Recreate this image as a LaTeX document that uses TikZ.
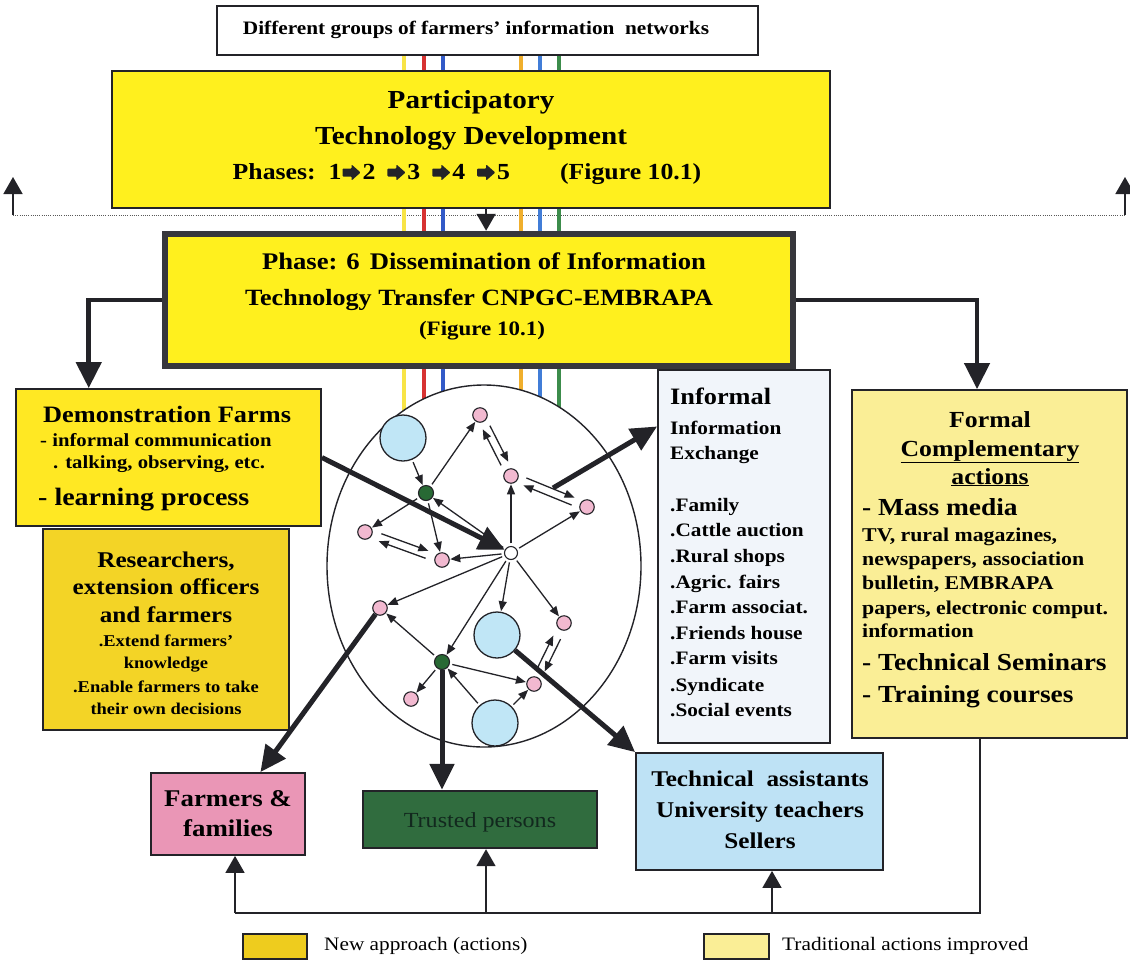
\documentclass[tikz,border=0pt]{standalone}
\usepackage{fontspec}
\setmainfont{Liberation Serif}[FakeStretch=1.12]
\usetikzlibrary{arrows.meta,calc,fit}

\definecolor{ink}{RGB}{35,35,40}
\definecolor{frame}{RGB}{55,55,60}
\definecolor{brightyellow}{RGB}{255,240,30}
\definecolor{demoyellow}{RGB}{255,232,35}
\definecolor{goldyellow}{RGB}{243,212,38}
\definecolor{keygold}{RGB}{238,204,30}
\definecolor{paleyellow}{RGB}{250,238,150}
\definecolor{infoblue}{RGB}{241,245,250}
\definecolor{skyblue}{RGB}{190,226,245}
\definecolor{rosepink}{RGB}{234,150,182}
\definecolor{forest}{RGB}{48,108,62}
\definecolor{forestdark}{RGB}{18,40,30}
\definecolor{dotpink}{RGB}{242,185,208}
\definecolor{dotgreen}{RGB}{40,105,52}
\definecolor{circblue}{RGB}{192,230,246}
\definecolor{lnyellow}{RGB}{248,228,70}
\definecolor{lnred}{RGB}{215,50,50}
\definecolor{lnblue}{RGB}{50,90,200}
\definecolor{lnorange}{RGB}{240,175,45}
\definecolor{lnbluelight}{RGB}{65,125,215}
\definecolor{lngreen}{RGB}{60,140,75}

\newcommand\fsz[1]{\fontsize{#1}{#1}\selectfont}
% one line of text: anchor, name, position, font, contents
\newcommand\tline[5]{\node[anchor=#1,inner sep=0pt,font={#4}] (#2) at (#3) {#5};}
% heavy block arrow used between the phase numbers
\newcommand\fatarrow{\tikz[baseline=-6.5pt]{\fill[ink,rounded corners=0.8pt] (0pt,-4pt) -- (9pt,-4pt) -- (9pt,-8pt) -- (18pt,0pt) -- (9pt,8pt) -- (9pt,4pt) -- (0pt,4pt) -- cycle;}}
% two opposite arrows running side by side between two nodes
\newcommand\pairarrow[3]{%
  \draw[netarrow,shorten <=#3,shorten >=#3] ($(#1)!4pt!90:(#2)$) -- ($(#2)!4pt!-90:(#1)$);
  \draw[netarrow,shorten <=#3,shorten >=#3] ($(#2)!4pt!90:(#1)$) -- ($(#1)!4pt!-90:(#2)$);}

\begin{document}
\begin{tikzpicture}[x=1pt,y=-1pt,
  box/.style={draw=ink,line width=1.8pt,inner sep=0pt},
  netarrow/.style={draw=ink,line width=1.3pt,-{Triangle[length=10pt,width=8pt]},shorten <=2.5pt,shorten >=0.5pt},
  bigarrow/.style={draw=ink,line width=5pt,-{Triangle[length=26pt,width=24pt]}},
  branch/.style={draw=ink,line width=4.5pt,-{Triangle[length=26pt,width=25pt]}},
  busline/.style={draw=ink,line width=2.6pt},
  uparrow/.style={draw=ink,line width=1.6pt,-{Triangle[length=17pt,width=19pt]}},
  dotline/.style={draw=black!65,line width=1pt,dash pattern=on 1pt off 1.2pt},
  bigc/.style={circle,draw=ink,line width=1.3pt,fill=circblue,minimum size=46pt,inner sep=0pt},
  pdot/.style={circle,draw=ink,line width=1.1pt,fill=dotpink,minimum size=14.5pt,inner sep=0pt},
  gdot/.style={circle,draw=ink,line width=1.1pt,fill=dotgreen,minimum size=15pt,inner sep=0pt},
  hub/.style={circle,draw=ink,line width=1.1pt,fill=white,minimum size=13pt,inner sep=0pt}]

\fill[white] (0,0) rectangle (1130,962);
\useasboundingbox (0,0) rectangle (1130,962);

% the separating dotted line with its two upward arrows
\coordinate (dotL) at (13,215);
\coordinate (dotR) at (1125,215);
\coordinate (dotLtip) at (13,177);
\coordinate (dotRtip) at (1125,177);
\draw[dotline] (dotL) -- (dotR);
\draw[uparrow] (dotL) -- (dotLtip);
\draw[uparrow] (dotR) -- (dotRtip);

% coloured threads of the farmer networks
\foreach \xx/\cc in {404/lnyellow,424/lnred,443/lnblue,521/lnorange,540/lnbluelight,559/lngreen}
  \draw[\cc,line width=4pt] (\xx,55) -- (\xx,470);

% boxes
\node[box,fill=white,fit={(217,6) (758,55)}] (groups) {};
\node[box,fill=brightyellow,fit={(112,71) (830,208)}] (ptd) {};
\node[box,fill=brightyellow,draw=frame,line width=6.5pt,fit={(165,234) (793,366)}] (phase) {};
\node[box,fill=demoyellow,fit={(16,389) (321,526)}] (demo) {};
\node[box,fill=goldyellow,fit={(43,529) (289,730)}] (research) {};
\node[box,fill=infoblue,fit={(658,370) (830,743)}] (informal) {};
\node[box,fill=paleyellow,fit={(852,390) (1127,738)}] (formal) {};
\node[box,fill=rosepink,fit={(151,773) (305,855)}] (farmers) {};
\node[box,fill=forest,line width=2.4pt,fit={(363,791) (597,848)}] (trusted) {};
\node[box,fill=skyblue,fit={(636,753) (883,870)}] (tech) {};
\node[box,fill=keygold,fit={(243,934) (307,959)}] (keynew) {};
\node[box,fill=paleyellow,fit={(704,934) (769,959)}] (keytrad) {};

% PTD to phase 6
\coordinate (ptdOut) at ($(ptd.south west)!0.521!(ptd.south east)$);
\draw[uparrow] (ptdOut) -- (ptdOut |- phase.north);

% phase 6 branches
\coordinate (demoIn) at ($(demo.north west)!0.24!(demo.north east)$);
\coordinate (formalIn) at ($(formal.north west)!0.455!(formal.north east)$);
\draw[branch] (phase.west) -| (demoIn);
\draw[branch] (phase.east) -| (formalIn);

% feedback bus from the formal actions
\coordinate (fbTop) at ($(formal.south west)!0.465!(formal.south east)$);
\coordinate (busL) at (235,913);
\coordinate (busT) at (486,913);
\coordinate (busS) at (772,913);
\draw[busline] (fbTop) |- (busL);
\draw[uparrow] (busL) -- (busL |- farmers.south);
\draw[uparrow] (busT) -- (busT |- trusted.south);
\draw[uparrow] (busS) -- (busS |- tech.south);

% network ellipse
\path[fill=white,draw=ink,line width=1.4pt] (484,566) ellipse [x radius=157pt,y radius=181pt];

\node[bigc] (C1) at (403,438) {};
\node[bigc] (C2) at (497,635) {};
\node[bigc] (C3) at (495,723) {};
\node[gdot] (G1) at (426,493) {};
\node[gdot] (G2) at (442,662) {};
\node[hub]  (Ctr) at (511,553) {};
\node[pdot] (P1) at (480,415) {};
\node[pdot] (P2) at (511,476) {};
\node[pdot] (P3) at (587,507) {};
\node[pdot] (P4) at (365,532) {};
\node[pdot] (P5) at (442,560) {};
\node[pdot] (P6) at (380,608) {};
\node[pdot] (P7) at (564,623) {};
\node[pdot] (P8) at (534,684) {};
\node[pdot] (P9) at (411,699) {};

\draw[netarrow] (C1) -- (G1);
\draw[netarrow] (G1) -- (P1);
\pairarrow{P1}{P2}{14pt}
\draw[netarrow] (Ctr) -- (P2);
\pairarrow{P2}{P3}{15pt}
\draw[netarrow] (Ctr) -- (P3);
\draw[netarrow] (Ctr) -- (G1);
\draw[netarrow] (G1) -- (P4);
\draw[netarrow] (G1) -- (P5);
\pairarrow{P4}{P5}{16pt}
\draw[netarrow] (Ctr) -- (P5);
\draw[netarrow] (Ctr) -- (P6);
\draw[netarrow] (Ctr) -- (C2);
\draw[netarrow] (Ctr) -- (P7);
\draw[netarrow] (Ctr) -- (G2);
\draw[netarrow] (G2) -- (P6);
\draw[netarrow] (G2) -- (P9);
\draw[netarrow] (G2) -- (P8);
\draw[netarrow] (C3) -- (G2);
\draw[netarrow] (C3) -- (P8);
\pairarrow{P8}{P7}{16pt}

% heavy flows in and out of the network
\coordinate (infS) at (553,488);
\coordinate (infT) at ($(informal.north west)!0.153!(informal.south west)$);
\coordinate (farmT) at ($(farmers.north west)!0.708!(farmers.north east)$);
\draw[bigarrow] (demo.east) -- (Ctr);
\draw[bigarrow] (infS) -- (infT);
\draw[bigarrow] (C2) -- (tech.north west);
\draw[bigarrow] (P6) -- (farmT);
\draw[bigarrow] (G2) -- (G2 |- trusted.north);

% texts
\tline{base}{tGroups}{476,34}{\fsz{19}\bfseries}{Different groups of farmers’ information\ \ networks}

\tline{base}{tPtdA}{471,108}{\fsz{26}\bfseries}{Participatory}
\tline{base}{tPtdB}{471,144}{\fsz{26}\bfseries}{Technology Development}
\tline{base}{tPtdC}{467,179}{\fsz{23}\bfseries}{Phases:\hspace{13pt}1\hspace{1pt}\fatarrow\hspace{2pt}2\hspace{12pt}\fatarrow\hspace{2pt}3\hspace{12pt}\fatarrow\hspace{2pt}4\hspace{12pt}\fatarrow\hspace{2pt}5\hspace{50pt}(Figure 10.1)}

\tline{base}{tPhA}{484,269}{\fsz{23.8}\bfseries}{Phase: 6\hspace{10pt}Dissemination of Information}
\tline{base}{tPhB}{479,305}{\fsz{23.3}\bfseries}{Technology Transfer CNPGC-EMBRAPA}
\tline{base}{tPhC}{482,335}{\fsz{20.5}\bfseries}{(Figure 10.1)}

\tline{base west}{tDemoA}{43,422}{\fsz{23.5}\bfseries}{Demonstration Farms}
\tline{base west}{tDemoB}{40,446}{\fsz{18.5}\bfseries}{- informal communication}
\tline{base west}{tDemoC}{53,468}{\fsz{18.5}\bfseries}{. talking, observing, etc.}
\tline{base west}{tDemoD}{38,505}{\fsz{25}\bfseries}{- learning process}

\tline{base}{tResA}{166,567}{\fsz{22.5}\bfseries}{Researchers,}
\tline{base}{tResB}{166,594}{\fsz{22.5}\bfseries}{extension officers}
\tline{base}{tResC}{166,622}{\fsz{22.5}\bfseries}{and farmers}
\tline{base}{tResD}{166,646}{\fsz{16.5}\bfseries}{.Extend farmers’}
\tline{base}{tResE}{166,668}{\fsz{16.5}\bfseries}{knowledge}
\tline{base}{tResF}{166,692}{\fsz{16.5}\bfseries}{.Enable farmers to take}
\tline{base}{tResG}{166,714}{\fsz{16.5}\bfseries}{their own decisions}

\tline{base west}{tInfA}{670,404}{\fsz{23.5}\bfseries}{Informal}
\tline{base west}{tInfB}{670,434}{\fsz{19}\bfseries}{Information}
\tline{base west}{tInfC}{670,459}{\fsz{19}\bfseries}{Exchange}
\tline{base west}{tInfD}{670,511}{\fsz{19}\bfseries}{.Family}
\tline{base west}{tInfE}{670,536}{\fsz{19}\bfseries}{.Cattle auction}
\tline{base west}{tInfF}{670,562}{\fsz{19}\bfseries}{.Rural shops}
\tline{base west}{tInfG}{670,588}{\fsz{19}\bfseries}{.Agric. fairs}
\tline{base west}{tInfH}{670,613}{\fsz{19}\bfseries}{.Farm associat.}
\tline{base west}{tInfI}{670,639}{\fsz{19}\bfseries}{.Friends house}
\tline{base west}{tInfJ}{670,664}{\fsz{19}\bfseries}{.Farm visits}
\tline{base west}{tInfK}{670,691}{\fsz{19}\bfseries}{.Syndicate}
\tline{base west}{tInfL}{670,716}{\fsz{19}\bfseries}{.Social events}

\tline{base}{tForA}{990,427}{\fsz{23}\bfseries}{Formal}
\tline{base}{tForB}{990,456}{\fsz{23}\bfseries}{\underline{Complementary}}
\tline{base}{tForC}{990,484}{\fsz{23}\bfseries}{\underline{actions}}
\tline{base west}{tForD}{862,515}{\fsz{24.5}\bfseries}{- Mass media}
\tline{base west}{tForE}{862,541}{\fsz{19.5}\bfseries}{TV, rural magazines,}
\tline{base west}{tForF}{862,565}{\fsz{19.5}\bfseries}{newspapers, association}
\tline{base west}{tForG}{862,589}{\fsz{19.5}\bfseries}{bulletin, EMBRAPA}
\tline{base west}{tForH}{862,614}{\fsz{19.5}\bfseries}{papers, electronic comput.}
\tline{base west}{tForI}{862,637}{\fsz{19.5}\bfseries}{information}
\tline{base west}{tForJ}{862,670}{\fsz{24.5}\bfseries}{- Technical Seminars}
\tline{base west}{tForK}{862,702}{\fsz{24.5}\bfseries}{- Training courses}

\tline{base}{tFarmA}{228,806}{\fsz{24}\bfseries}{Farmers \&}
\tline{base}{tFarmB}{228,836}{\fsz{24}\bfseries}{families}
\tline{base}{tTrust}{480,827}{\fsz{21.5}\color{forestdark}}{Trusted persons}
\tline{base}{tTechA}{760,786}{\fsz{22.5}\bfseries}{Technical\ \ assistants}
\tline{base}{tTechB}{760,817}{\fsz{22.5}\bfseries}{University teachers}
\tline{base}{tTechC}{760,848}{\fsz{22.5}\bfseries}{Sellers}

\tline{base west}{tKeyNew}{324,950}{\fsz{19}}{New approach (actions)}
\tline{base west}{tKeyTrad}{782,950}{\fsz{19}}{Traditional actions improved}
\end{tikzpicture}
\end{document}
